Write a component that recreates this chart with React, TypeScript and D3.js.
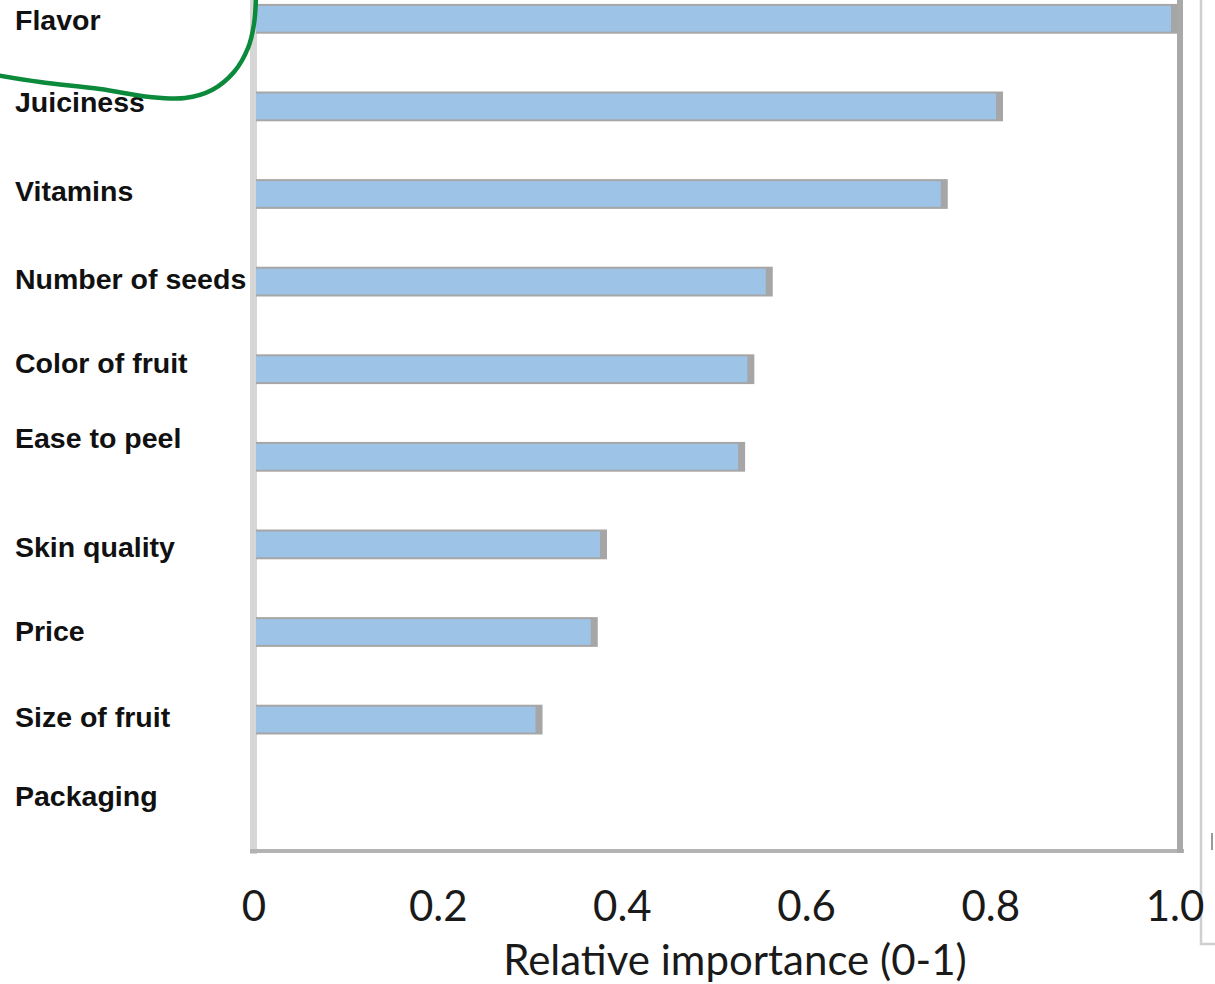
import React from "react";
import * as d3 from "d3";

// Attribute importance ratings, ordered top to bottom
const attributes = [
  "Flavor",
  "Juiciness",
  "Vitamins",
  "Number of seeds",
  "Color of fruit",
  "Ease to peel",
  "Skin quality",
  "Price",
  "Size of fruit",
  "Packaging",
];
const importance = [1.0, 0.81, 0.75, 0.56, 0.54, 0.53, 0.38, 0.37, 0.31, 0];
const tickValues = [0, 0.2, 0.4, 0.6, 0.8, 1.0];
const tickLabels = ["0", "0.2", "0.4", "0.6", "0.8", "1.0"];
const axisTitle = "Relative importance (0-1)";

// Vertical nudges for the category labels (they sit slightly off the bars)
const labelNudge = [1, -5, -3, -3, -6, -19, 2, -1, -3, -11];

const W = 1215;
const H = 984;

export default function App() {
  const x = d3.scaleLinear().domain([0, 1]).range([256, 1177]);
  const y = d3
    .scaleBand<string>()
    .domain(attributes)
    .range([-25, 851])
    .paddingInner(0.66)
    .paddingOuter(0.33);

  const bw = y.bandwidth();
  const shadow = "#a6a6a6";
  const fill = "#9dc3e6";

  // Hand-drawn green loop around the top label
  const loop = d3.line().curve(d3.curveCatmullRom.alpha(0.5))([
    [-4, 75],
    [40, 82],
    [100, 89],
    [150, 97],
    [185, 98],
    [212, 90],
    [234, 72],
    [248, 48],
    [254, 24],
    [256, -4],
  ]);

  return (
    <svg
      width={W}
      height={H}
      viewBox={`0 0 ${W} ${H}`}
      style={{ position: "absolute", left: 0, top: 0, background: "#fff" }}
    >
      {/* neighbouring panel edge */}
      <path d="M1201,-2 V944 H1216" fill="none" stroke="#cfcfcf" strokeWidth={2.5} />
      <line x1={1212} y1={833} x2={1212} y2={850} stroke="#9a9a9a" strokeWidth={2} />

      {/* plot frame */}
      <rect x={250} y={-10} width={7} height={864} fill="#d6d6d6" />
      <rect x={250} y={849} width={934} height={4} fill="#b3b3b3" />
      <rect x={1177} y={-10} width={6} height={863} fill="#a9a9a9" />

      {/* bars: grey shadow body with the blue face inset */}
      {attributes.map((a, i) => {
        const v = importance[i];
        if (v <= 0) return null;
        const y0 = y(a)!;
        const x1 = x(v);
        return (
          <g key={a}>
            <rect x={x(0)} y={y0} width={x1 - x(0) + 1} height={bw} fill={shadow} />
            <rect x={x(0)} y={y0 + 2} width={x1 - x(0) - 6} height={bw - 4} fill={fill} />
          </g>
        );
      })}

      {/* category labels */}
      {attributes.map((a, i) => (
        <text
          key={a}
          x={15}
          y={y(a)! + bw / 2 + labelNudge[i]}
          dy="0.36em"
          fontFamily="'Liberation Sans', Arial, sans-serif"
          fontWeight="bold"
          fontSize={28.5}
          fill="#111"
        >
          {a}
        </text>
      ))}

      {/* x tick labels */}
      {tickValues.map((t, i) => (
        <text
          key={t}
          x={x(t) - 2}
          y={921}
          textAnchor="middle"
          fontFamily="Lato, 'Open Sans', sans-serif"
          fontSize={42}
          fill="#1a1a1a"
        >
          {tickLabels[i]}
        </text>
      ))}

      {/* axis title */}
      <text
        x={735}
        y={975}
        textAnchor="middle"
        fontFamily="Lato, 'Open Sans', sans-serif"
        fontSize={42}
        fill="#1a1a1a"
      >
        {axisTitle}
      </text>

      <path d={loop ?? ""} fill="none" stroke="#0b8a3c" strokeWidth={4.5} strokeLinecap="round" />
    </svg>
  );
}
